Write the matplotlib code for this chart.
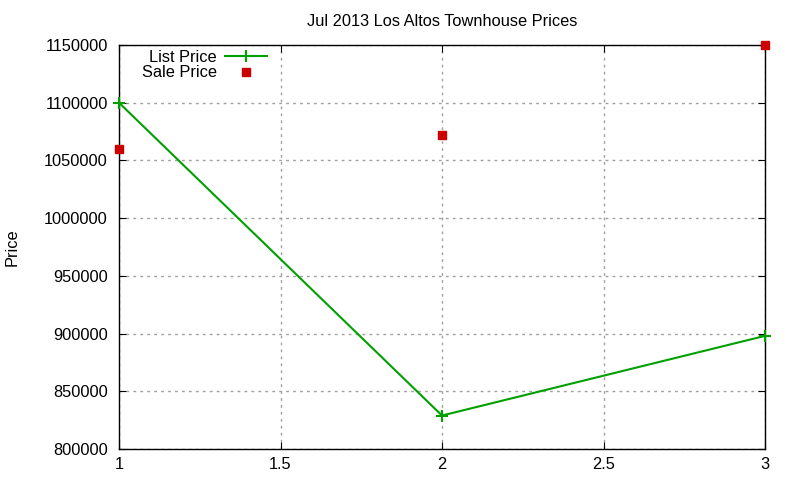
import matplotlib
matplotlib.use("Agg")
import matplotlib.pyplot as plt

x_vals = [1, 2, 3]
list_price = [1100000, 829000, 898000]
sale_price = [1060000, 1072000, 1150000]
x_ticks = [1, 1.5, 2, 2.5, 3]
x_tick_labels = ["1", "1.5", "2", "2.5", "3"]
y_ticks = [800000, 850000, 900000, 950000, 1000000, 1050000, 1100000, 1150000]

plt.rcParams['font.family'] = ['Liberation Sans', 'DejaVu Sans']

fig = plt.figure(figsize=(8, 4.8), dpi=100)
ax = fig.add_axes([119/800, 1-449/480, (765-119)/800, (449-45)/480])

ax.plot(x_vals, list_price, color='#00a000', lw=1.5, marker='+', ms=8, mew=1.5,
        label='List Price', clip_on=False, zorder=3)
ax.plot(x_vals, sale_price, ls='none', color='#cc0000', marker='s', ms=6,
        label='Sale Price', clip_on=False, zorder=4)

ax.set_xlim(1, 3)
ax.set_ylim(800000, 1150000)
ax.set_xticks(x_ticks)
ax.set_xticklabels(x_tick_labels)
ax.set_yticks(y_ticks)
ax.set_yticklabels([str(v) for v in y_ticks])
ax.tick_params(direction='in', top=True, right=True, labelsize=11.8, length=5)
ax.tick_params(axis='y', pad=8)
ax.tick_params(axis='x', pad=6)
ax.grid(True, color='#a0a0a0', ls=(0, (2, 3)), lw=1)
for s in ax.spines.values():
    s.set_linewidth(1)
ax.set_title('Jul 2013 Los Altos Townhouse Prices', fontsize=11.8, pad=14)
ax.set_ylabel('Price', fontsize=11.8, labelpad=0)
ax.yaxis.set_label_coords(-99/646, 0.5)

leg = fig.legend(loc='upper right', bbox_to_anchor=(267/800, 1-50/480),
                 frameon=False, fontsize=11.8, markerfirst=False,
                 handlelength=2.55, handletextpad=0.5,
                 labelspacing=0.02, borderpad=0, borderaxespad=0)
for t in leg.get_texts():
    t.set_ha('right')
leg._legend_box.align = 'right'

fig.savefig('out.png', dpi=100)
